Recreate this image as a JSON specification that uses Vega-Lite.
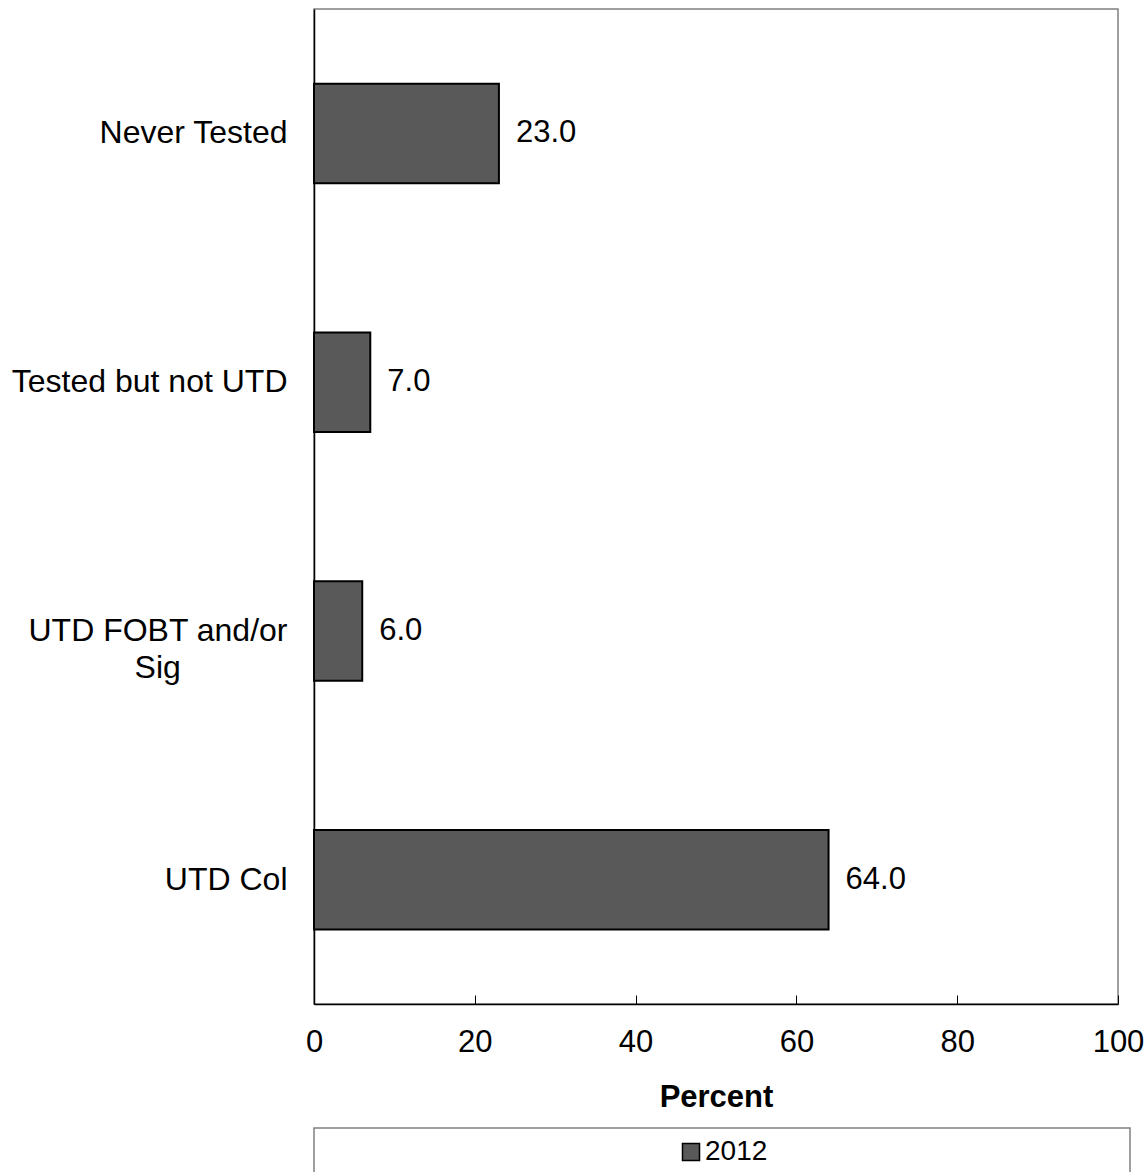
{
  "$schema": "https://vega.github.io/schema/vega-lite/v6.json",
  "description": "Colorectal cancer screening status, 2012",
  "padding": {"left": 10, "top": 8, "right": 0, "bottom": 0},
  "autosize": {"type": "pad"},
  "background": "white",
  "data": {
    "values": [
      {"category": "Never Tested", "percent": 23.0, "year": "2012"},
      {"category": "Tested but not UTD", "percent": 7.0, "year": "2012"},
      {"category": "UTD FOBT and/or Sig", "percent": 6.0, "year": "2012"},
      {"category": "UTD Col", "percent": 64.0, "year": "2012"}
    ]
  },
  "config": {
    "font": "Liberation Sans",
    "view": {"stroke": "#808080", "strokeWidth": 1.5},
    "axis": {
      "labelFont": "Liberation Sans",
      "labelColor": "black",
      "labelFontSize": 31,
      "grid": false,
      "domainColor": "black",
      "domainWidth": 1.5,
      "titleFont": "Liberation Sans"
    },
    "concat": {"spacing": 14}
  },
  "vconcat": [
    {
      "width": 804,
      "height": 995,
      "encoding": {
        "y": {
          "field": "category",
          "type": "nominal",
          "sort": null,
          "scale": {"paddingInner": 0.6, "paddingOuter": 0.3},
          "axis": {
            "title": null,
            "ticks": false,
            "labelFontSize": 32,
            "labelPadding": 27,
            "labelLineHeight": 37,
            "labelLimit": 0,
            "labelExpr": "datum.value == 'UTD FOBT and/or Sig' ? ['UTD FOBT and/or', 'Sig\u00a0\u00a0\u00a0\u00a0\u00a0\u00a0\u00a0\u00a0\u00a0\u00a0\u00a0\u00a0\u200b'] : datum.value"
          }
        },
        "x": {
          "field": "percent",
          "type": "quantitative",
          "scale": {"domain": [0, 100]},
          "axis": {
            "values": [0, 20, 40, 60, 80, 100],
            "title": "Percent",
            "titleFontSize": 31,
            "titleFontWeight": "bold",
            "titleColor": "black",
            "tickSize": -9,
            "tickColor": "black",
            "labelPadding": 32,
            "titlePadding": 25,
            "labelFlush": false
          }
        }
      },
      "layer": [
        {
          "mark": {"type": "bar", "stroke": "black", "strokeWidth": 2},
          "encoding": {
            "color": {
              "field": "year",
              "type": "nominal",
              "scale": {"range": ["#595959"]},
              "legend": {
                "orient": "none",
                "legendX": 363,
                "legendY": 1129,
                "title": null,
                "labelFontSize": 28,
                "labelColor": "black",
                "labelOffset": 0,
                "symbolType": "square",
                "symbolSize": 289,
                "symbolStrokeColor": "black",
                "symbolStrokeWidth": 1.5
              }
            }
          }
        },
        {
          "mark": {"type": "text", "align": "left", "dx": 17, "fontSize": 31, "color": "black"},
          "encoding": {
            "text": {"field": "percent", "type": "quantitative", "format": ".1f"}
          }
        }
      ]
    },
    {
      "width": 816,
      "height": 80,
      "view": {"stroke": "#808080", "strokeWidth": 1.5, "fill": "white"},
      "mark": {"type": "text"},
      "encoding": {"text": {"value": ""}}
    }
  ]
}
